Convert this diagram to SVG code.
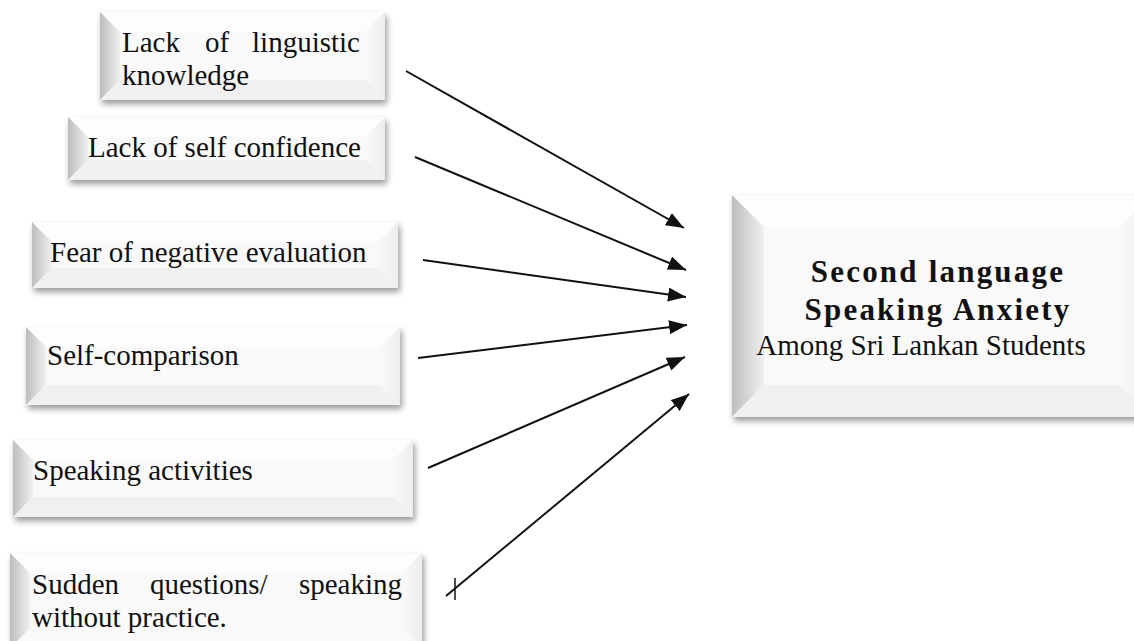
<svg xmlns="http://www.w3.org/2000/svg" width="1134" height="641" viewBox="0 0 1134 641">
<defs>
<style>
.t{font-family:"Liberation Serif","Times New Roman",serif;font-size:29px;fill:#111}
.b{font-weight:bold;font-size:31px;letter-spacing:2.2px}
.face{fill:#f9f9f9}
.top{fill:#fdfdfd}
.left{fill:url(#gl)}
.right{fill:url(#gr)}
.bot{fill:#f0f0f0}
.conn{stroke:#111;stroke-width:2;fill:none;marker-end:url(#ah)}
</style>
<linearGradient id="gl" x1="0" y1="0" x2="1" y2="0">
<stop offset="0" stop-color="#bdbdbd"/><stop offset="1" stop-color="#f0f0f0"/>
</linearGradient>
<linearGradient id="gr" x1="0" y1="0" x2="1" y2="0">
<stop offset="0" stop-color="#f9f9f9"/><stop offset="1" stop-color="#ededed"/>
</linearGradient>
<filter id="sh" x="-5%" y="-10%" width="115%" height="130%">
<feGaussianBlur in="SourceAlpha" stdDeviation="3"/>
<feOffset dx="2" dy="4" result="o"/>
<feComponentTransfer><feFuncA type="linear" slope="0.4"/></feComponentTransfer>
<feMerge><feMergeNode/><feMergeNode in="SourceGraphic"/></feMerge>
</filter>
<marker id="ah" markerUnits="userSpaceOnUse" markerWidth="20" markerHeight="16" refX="18" refY="7" orient="auto">
<path d="M0,0 L18,7 L0,14 z" fill="#111"/>
</marker>
</defs>
<rect width="1134" height="641" fill="#fff"/>

<g id="n1">
<g filter="url(#sh)"><rect class="face" x="100" y="12" width="285" height="88"/></g>
<polygon class="top" points="100,12 385,12 365,32 120,32"/>
<polygon class="left" points="100,12 120,32 120,80 100,100"/>
<polygon class="right" points="385,12 385,100 365,80 365,32"/>
<polygon class="bot" points="100,100 120,80 365,80 385,100"/>
<text class="t" x="122" y="52">Lack</text>
<text class="t" x="205" y="52">of</text>
<text class="t" x="360" y="52" text-anchor="end">linguistic</text>
<text class="t" x="122" y="85">knowledge</text>
</g>

<g id="n2">
<g filter="url(#sh)"><rect class="face" x="68" y="117" width="317" height="63"/></g>
<polygon class="top" points="68,117 385,117 365,137 88,137"/>
<polygon class="left" points="68,117 88,137 88,160 68,180"/>
<polygon class="right" points="385,117 385,180 365,160 365,137"/>
<polygon class="bot" points="68,180 88,160 365,160 385,180"/>
<text class="t" x="88" y="157">Lack of self confidence</text>
</g>

<g id="n3">
<g filter="url(#sh)"><rect class="face" x="32" y="222" width="366" height="66"/></g>
<polygon class="top" points="32,222 398,222 378,242 52,242"/>
<polygon class="left" points="32,222 52,242 52,268 32,288"/>
<polygon class="right" points="398,222 398,288 378,268 378,242"/>
<polygon class="bot" points="32,288 52,268 378,268 398,288"/>
<text class="t" x="50" y="262">Fear of negative evaluation</text>
</g>

<g id="n4">
<g filter="url(#sh)"><rect class="face" x="26" y="327" width="374" height="78"/></g>
<polygon class="top" points="26,327 400,327 380,347 46,347"/>
<polygon class="left" points="26,327 46,347 46,385 26,405"/>
<polygon class="right" points="400,327 400,405 380,385 380,347"/>
<polygon class="bot" points="26,405 46,385 380,385 400,405"/>
<text class="t" x="47" y="365">Self-comparison</text>
</g>

<g id="n5">
<g filter="url(#sh)"><rect class="face" x="13" y="440" width="400" height="77"/></g>
<polygon class="top" points="13,440 413,440 393,460 33,460"/>
<polygon class="left" points="13,440 33,460 33,497 13,517"/>
<polygon class="right" points="413,440 413,517 393,497 393,460"/>
<polygon class="bot" points="13,517 33,497 393,497 413,517"/>
<text class="t" x="33" y="480">Speaking activities</text>
</g>

<g id="n6">
<g filter="url(#sh)"><rect class="face" x="10" y="553" width="412" height="95"/></g>
<polygon class="top" points="10,553 422,553 402,573 30,573"/>
<polygon class="left" points="10,553 30,573 30,628 10,648"/>
<polygon class="right" points="422,553 422,648 402,628 402,573"/>
<text class="t" x="32" y="594">Sudden</text>
<text class="t" x="150" y="594">questions/</text>
<text class="t" x="402" y="594" text-anchor="end">speaking</text>
<text class="t" x="32" y="627">without practice.</text>
</g>

<g id="target">
<g filter="url(#sh)"><rect class="face" x="732" y="195" width="420" height="222"/></g>
<polygon class="top" points="732,195 1152,195 1120,227 764,227"/>
<polygon class="left" points="732,195 764,227 764,385 732,417"/>
<polygon class="right" points="1152,195 1152,417 1120,385 1120,227"/>
<polygon class="bot" points="732,417 764,385 1120,385 1152,417"/>
<text class="t b" x="938" y="282" text-anchor="middle">Second language</text>
<text class="t b" x="938" y="320" text-anchor="middle">Speaking Anxiety</text>
<text class="t" x="921" y="355" text-anchor="middle">Among Sri Lankan Students</text>
</g>

<g id="connectors">
<line class="conn" x1="406" y1="71" x2="684" y2="228"/>
<line class="conn" x1="415" y1="157" x2="686" y2="270"/>
<line class="conn" x1="423" y1="260" x2="686" y2="297"/>
<line class="conn" x1="418" y1="358" x2="687" y2="325"/>
<line class="conn" x1="428" y1="468" x2="685" y2="357"/>
<line class="conn" x1="446" y1="596" x2="689" y2="394"/>
<line x1="455" y1="578" x2="455" y2="600" stroke="#111" stroke-width="1.5"/>
</g>
</svg>
